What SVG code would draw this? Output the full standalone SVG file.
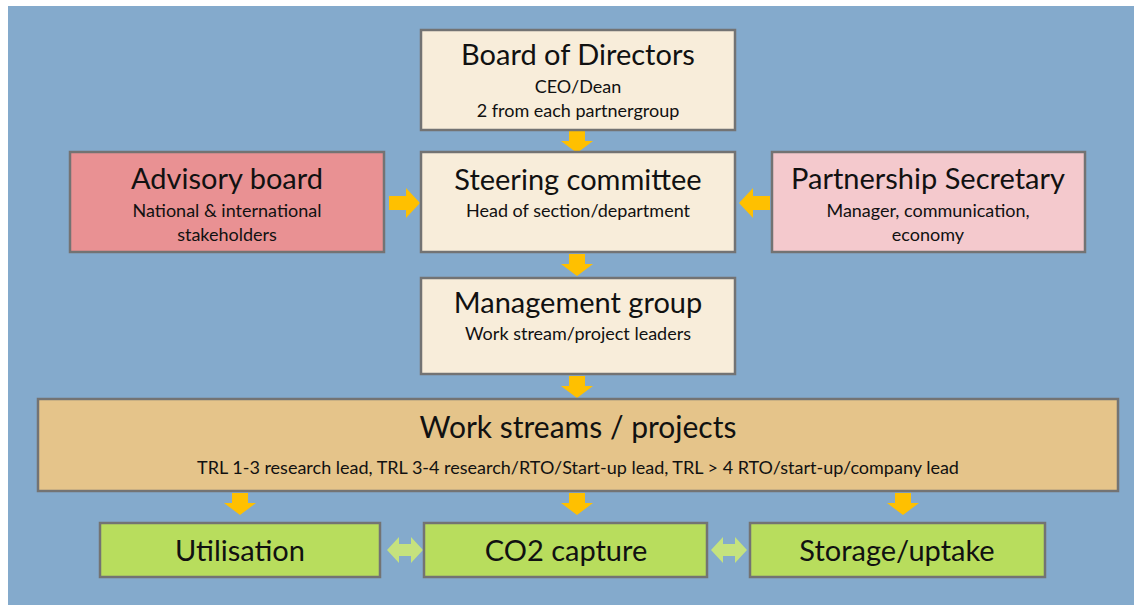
<svg xmlns="http://www.w3.org/2000/svg" width="1134" height="605" viewBox="0 0 1134 605">
<defs>
<style>
.bx{stroke:#737373;stroke-width:2.5}
.cream{fill:#F8EDDA}
.t{font-family:Lato,"Liberation Sans",sans-serif;fill:#111;text-anchor:middle}
.h{font-size:29px}
.s{font-size:18px}
.arr{fill:#FFC000}
.dbl{fill:#C5E27E}
</style>
<path id="down" d="M-8,0 H8 V10 H16 L0,22 L-16,10 H-8 Z"/>
<path id="right" d="M0,-7 H17 V-15 L31,0 L17,15 V7 H0 Z"/>
<path id="both" d="M0,0 L12,-13 V-6 H24 V-13 L36,0 L24,13 V6 H12 V13 Z"/>
</defs>
<rect x="8" y="6" width="1126" height="599" fill="#84AACC"/>
<g id="connectors">
<use href="#down" class="arr" x="577" y="131"/>
<use href="#down" class="arr" x="577" y="254"/>
<use href="#down" class="arr" x="577" y="376"/>
<use href="#down" class="arr" x="240" y="493"/>
<use href="#down" class="arr" x="577" y="493"/>
<use href="#down" class="arr" x="903" y="493"/>
<use href="#right" class="arr" x="389" y="203"/>
<use href="#right" class="arr" transform="translate(770,203) scale(-1,1)"/>
<use href="#both" class="dbl" x="387" y="550"/>
<use href="#both" class="dbl" x="711" y="550"/>
</g>
<g id="board">
<rect class="bx cream" x="421" y="30" width="314" height="100"/>
<text class="t h" x="578" y="65">Board of Directors</text>
<text class="t s" x="578" y="93">CEO/Dean</text>
<text class="t s" x="578" y="117">2 from each partnergroup</text>
</g>
<g id="advisory">
<rect class="bx" fill="#E99193" x="70" y="152" width="314" height="100"/>
<text class="t h" x="227" y="189">Advisory board</text>
<text class="t s" x="227" y="217">National &amp; international</text>
<text class="t s" x="227" y="241">stakeholders</text>
</g>
<g id="steering">
<rect class="bx cream" x="421" y="152" width="314" height="100"/>
<text class="t h" x="578" y="190">Steering committee</text>
<text class="t s" x="578" y="217">Head of section/department</text>
</g>
<g id="secretary">
<rect class="bx" fill="#F4C9CD" x="772" y="152" width="313" height="100"/>
<text class="t h" x="928" y="189">Partnership Secretary</text>
<text class="t s" x="928" y="217">Manager, communication,</text>
<text class="t s" x="928" y="241">economy</text>
</g>
<g id="management">
<rect class="bx cream" x="421" y="278" width="314" height="96"/>
<text class="t h" x="578" y="313">Management group</text>
<text class="t s" x="578" y="340">Work stream/project leaders</text>
</g>
<g id="workstreams">
<rect class="bx" fill="#E5C48A" x="38" y="399" width="1080" height="92"/>
<text class="t" font-size="30" x="578" y="438">Work streams / projects</text>
<text class="t s" x="578" y="474">TRL 1-3 research lead, TRL 3-4 research/RTO/Start-up lead, TRL &gt; 4 RTO/start-up/company lead</text>
</g>
<g id="utilisation">
<rect class="bx" fill="#B8DD5D" x="100" y="523" width="280" height="54"/>
<text class="t h" x="240" y="561">Utilisation</text>
</g>
<g id="co2">
<rect class="bx" fill="#B8DD5D" x="424" y="523" width="283" height="54"/>
<text class="t h" x="566" y="561">CO2 capture</text>
</g>
<g id="storage">
<rect class="bx" fill="#B8DD5D" x="750" y="523" width="295" height="54"/>
<text class="t h" x="897" y="561">Storage/uptake</text>
</g>
</svg>
